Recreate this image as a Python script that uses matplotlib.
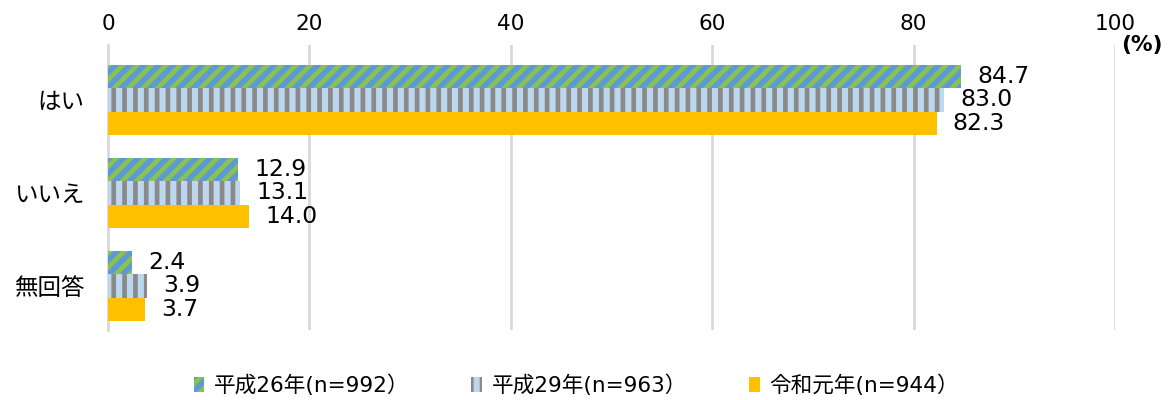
import matplotlib.pyplot as plt
import numpy as np

plt.rcParams['font.family'] = ['Noto Sans CJK JP', 'DejaVu Sans']
plt.rcParams['hatch.linewidth'] = 2.6

categories = ["はい", "いいえ", "無回答"]
series = ["平成26年(n=992）", "平成29年(n=963）", "令和元年(n=944）"]
values = [
    [84.7, 12.9, 2.4],
    [83.0, 13.1, 3.9],
    [82.3, 14.0, 3.7],
]
faces = ["#5b9bd5", "#bdd7ee", "#ffc000"]
hatch_cols = ["#8cc152", "#8a8a8a", "#ffc000"]
hatches = ["///", "||", None]

dpi = 130
fig = plt.figure(figsize=(1170 / dpi, 400 / dpi), dpi=dpi)
ax = fig.add_axes([108 / 1170, 1 - 330 / 400, (1115 - 108) / 1170, 285 / 400])

y = np.arange(len(categories))
h = 0.25
for i, (name, vals) in enumerate(zip(series, values)):
    bars = ax.barh(y + (i - 1) * h, vals, height=h, color=faces[i],
                   edgecolor=hatch_cols[i], linewidth=0, hatch=hatches[i],
                   label=name, zorder=3)
    for b, v in zip(bars, vals):
        ax.text(v + 1.6, b.get_y() + b.get_height() / 2, f"{v:.1f}",
                va="center", ha="left", fontsize=13, family="DejaVu Sans",
                zorder=4)

ax.set_xlim(0, 100)
ax.set_ylim(2.473, -0.59)
ax.set_xticks(range(0, 101, 20))
ax.xaxis.tick_top()
ax.tick_params(axis="x", length=0, labelsize=12, pad=6)
for lbl in ax.get_xticklabels():
    lbl.set_family("DejaVu Sans")
ax.tick_params(axis="y", length=0, labelsize=13, pad=13)
ax.set_yticks(y)
ax.set_yticklabels(categories)
ax.grid(axis="x", color="#d9d9d9", linewidth=1.5, zorder=0)
for s in ["top", "right", "bottom"]:
    ax.spines[s].set_visible(False)
ax.spines["left"].set_color("#d9d9d9")
ax.spines["left"].set_linewidth(1.5)

fig.text(1142 / 1170, 1 - 45 / 400, "(%)", ha="center", va="center",
         fontsize=12, fontweight="bold", family="DejaVu Sans")

fig.legend(loc="center", bbox_to_anchor=(0.4927, 1 - 385 / 400), ncol=3,
           frameon=False, handlelength=0.5, handleheight=0.7,
           handletextpad=0.45, columnspacing=2.85,
           prop={"family": ["DejaVu Sans", "Noto Sans CJK JP"], "size": 12})

fig.savefig("out.png", dpi=dpi)
